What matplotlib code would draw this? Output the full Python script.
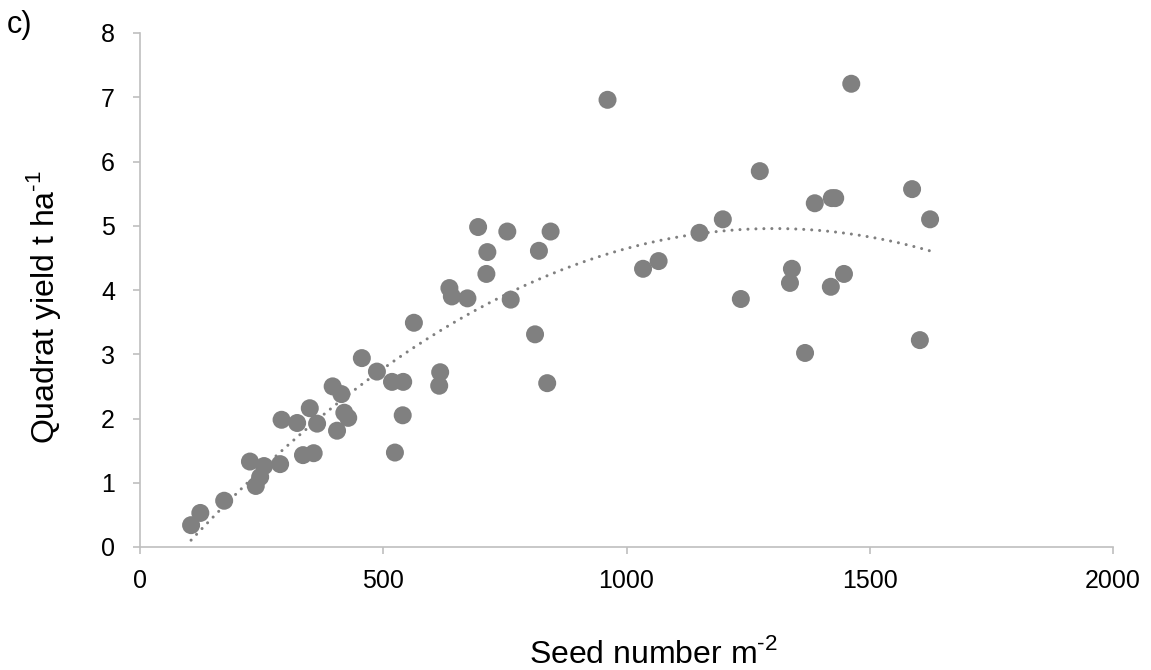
import matplotlib.pyplot as plt
import numpy as np

plt.rcParams['font.family'] = ['Liberation Sans', 'DejaVu Sans']
plt.rcParams['mathtext.fontset'] = 'custom'
plt.rcParams['mathtext.rm'] = 'Liberation Sans'

# seed number per m2 and quadrat yield (t/ha)
seeds = [105, 124, 173, 226, 238, 247, 255, 288, 291, 323, 335, 349, 357, 364,
         396, 405, 414, 420, 428, 456, 487, 518, 524, 540, 541, 563, 615, 617,
         636, 641, 673, 695, 712, 714, 755, 762, 812, 820, 837, 844, 961, 1034,
         1066, 1150, 1198, 1235, 1274, 1336, 1340, 1367, 1387, 1420, 1422, 1429,
         1447, 1462, 1587, 1603, 1624]
yields = [0.34, 0.53, 0.72, 1.33, 0.95, 1.09, 1.26, 1.29, 1.98, 1.93, 1.43, 2.16,
          1.46, 1.92, 2.50, 1.81, 2.38, 2.09, 2.01, 2.94, 2.73, 2.57, 1.47, 2.05,
          2.57, 3.49, 2.51, 2.72, 4.03, 3.90, 3.87, 4.98, 4.25, 4.59, 4.91, 3.85,
          3.31, 4.61, 2.55, 4.91, 6.96, 4.33, 4.45, 4.89, 5.10, 3.86, 5.85, 4.11,
          4.33, 3.02, 5.35, 4.05, 5.43, 5.43, 4.25, 7.21, 5.57, 3.22, 5.10]

x_ticks = [0, 500, 1000, 1500, 2000]
y_ticks = [0, 1, 2, 3, 4, 5, 6, 7, 8]

x = np.array(seeds)
y = np.array(yields)

fig = plt.figure(figsize=(11.51, 6.70), dpi=100)
ax = fig.add_axes([140/1151, 1 - 547/670, 973/1151, 514/670])

ax.scatter(x, y, s=168, color='#808080', edgecolors='none', zorder=3)

# 2nd order polynomial trend line
coef = np.polyfit(x, y, 2)
xs = np.linspace(x.min(), x.max(), 300)
ax.plot(xs, np.polyval(coef, xs), color='#808080', lw=2.2,
        linestyle=(0, (0.01, 2.6)), dash_capstyle='round', zorder=4)

ax.set_xlim(0, 2000)
ax.set_ylim(0, 8)
ax.set_xticks(x_ticks)
ax.set_yticks(y_ticks)

for s in ['top', 'right']:
    ax.spines[s].set_visible(False)
for s in ['left', 'bottom']:
    ax.spines[s].set_color('#bfbfbf')
    ax.spines[s].set_linewidth(1.2)

ax.tick_params(axis='both', direction='out', length=5, width=1.2,
               color='#bfbfbf', labelsize=18, labelcolor='black')
ax.tick_params(axis='y', pad=13)
ax.tick_params(axis='x', pad=11)

fig.text(653/1151, 1 - 663/670, 'Seed number m$^{\\text{-2}}$',
         ha='center', va='baseline', fontsize=23)
fig.text(44/1151, 1 - 307/670, 'Quadrat yield t ha$^{\\text{-1}}$',
         ha='center', va='center', rotation=90, fontsize=23)
fig.text(7/1151, 1 - 10/670, 'c)', ha='left', va='top', fontsize=22)

fig.savefig('out.png', dpi=100, facecolor='white')
